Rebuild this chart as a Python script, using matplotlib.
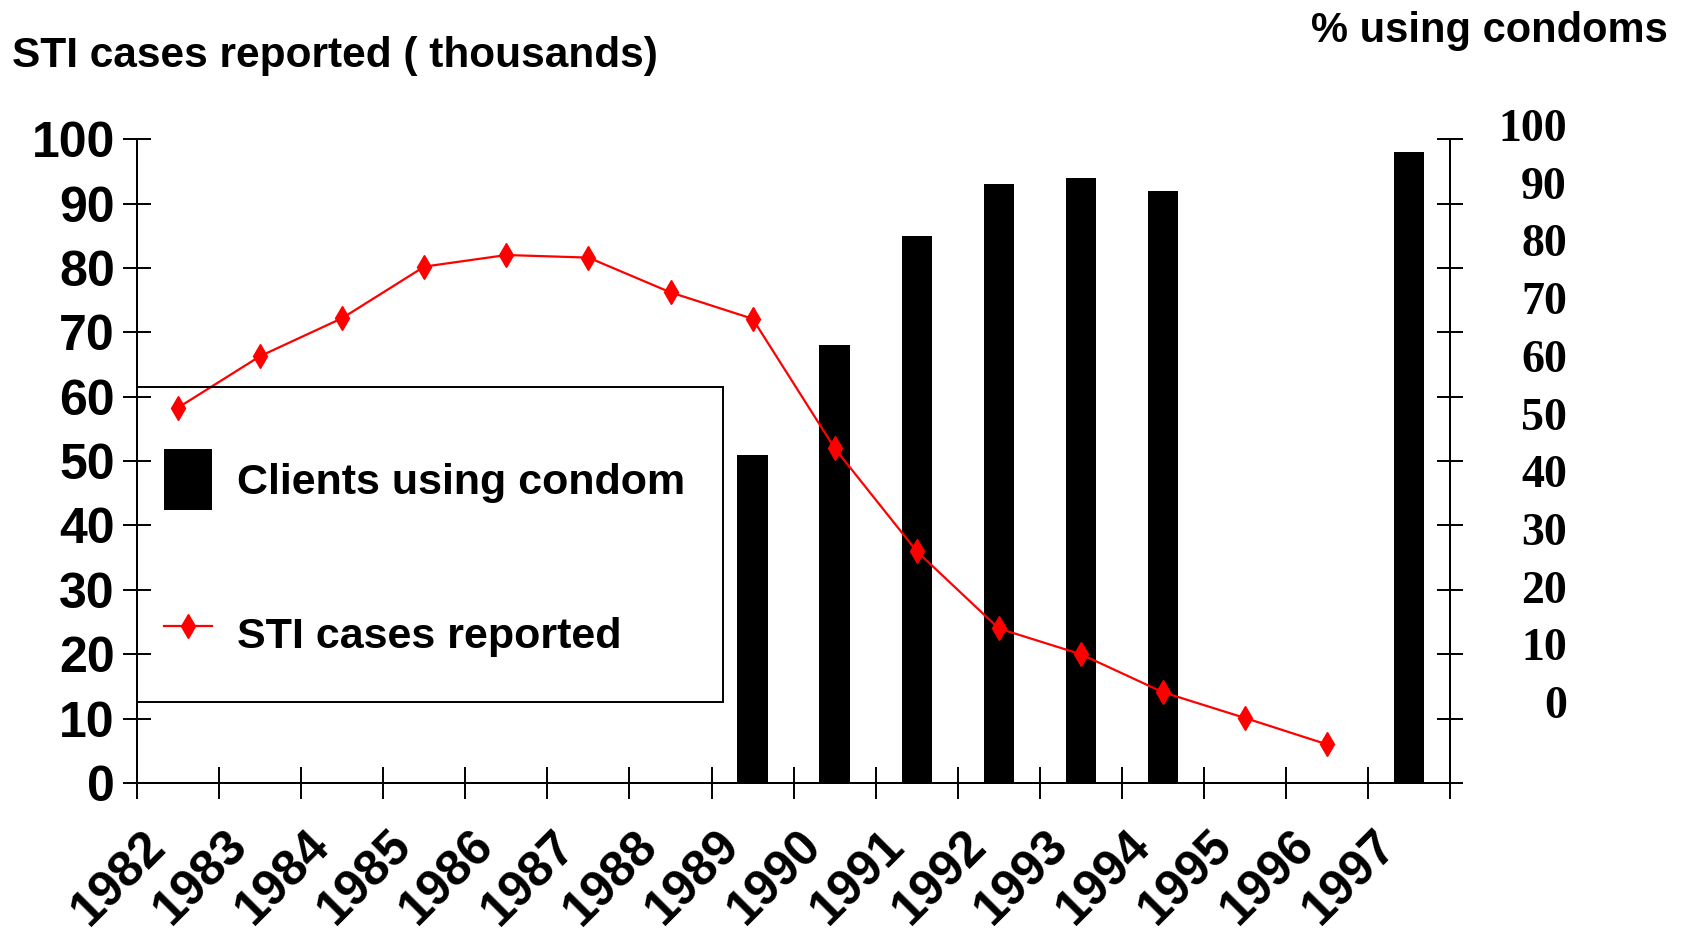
import matplotlib.pyplot as plt
from matplotlib.patches import Rectangle
from matplotlib.transforms import ScaledTranslation
import numpy as np

years = ["1982", "1983", "1984", "1985", "1986", "1987", "1988", "1989",
         "1990", "1991", "1992", "1993", "1994", "1995", "1996", "1997"]
sti_cases = [58.3, 66.3, 72.2, 80.2, 82.0, 81.6, 76.2, 72.1,
             52.0, 36.0, 24.0, 20.0, 14.1, 10.1, 6.0, np.nan]
condom_pct = [np.nan, np.nan, np.nan, np.nan, np.nan, np.nan, np.nan, 51,
              68, 85, 93, 94, 92, np.nan, np.nan, 98]
left_ticks = [0, 10, 20, 30, 40, 50, 60, 70, 80, 90, 100]
right_labels = ["0", "10", "20", "30", "40", "50", "60", "70", "80", "90", "100"]

SANS = "Liberation Sans"
SERIF = "Liberation Serif"

fig = plt.figure(figsize=(16.9, 9.4), dpi=100)
ax = fig.add_axes([0.0811, 0.167, 0.777, 0.685])
x = np.arange(len(years))

# bars belong to the right axis (% using condoms)
ax2 = ax.twinx()
ax2.bar(x, condom_pct, width=0.37, color="black", label="Clients using condom")
ax2.set_ylim(0, 100)
ax2.set_yticks(left_ticks)
ax2.set_yticklabels([])
ax2.tick_params(axis="y", direction="inout", length=19, width=1.4)

ax.set_zorder(ax2.get_zorder() + 1)
ax.patch.set_visible(False)
line, = ax.plot(x, sti_cases, color="red", lw=1.6, marker="d", ms=12,
                label="STI cases reported")
ax.set_xlim(-0.5, len(years) - 0.5)
ax.set_ylim(0, 100)
ax.set_yticks(left_ticks)
ax.set_yticklabels([str(v) for v in left_ticks], fontsize=36,
                   fontweight="bold", family=SANS)
ax.tick_params(axis="y", direction="inout", length=20, width=1.4, pad=6)

ax.set_xticks(x)
ax.set_xticklabels(years, rotation=45, ha="right", va="center",
                   rotation_mode="anchor", fontsize=36, fontweight="bold",
                   family=SANS)
ax.tick_params(axis="x", which="major", length=0, pad=40)
shift = ScaledTranslation(-0.2, 0, fig.dpi_scale_trans)
for lab in ax.get_xticklabels():
    lab.set_transform(lab.get_transform() + shift)
ax.set_xticks(np.arange(len(years) + 1) - 0.5, minor=True)
ax.tick_params(axis="x", which="minor", direction="inout", length=23, width=1.4)

for a in (ax, ax2):
    a.spines["top"].set_visible(False)
    for s in ("left", "bottom", "right"):
        a.spines[s].set_linewidth(1.4)

# labels of the right axis sit on their own scale
ax3 = fig.add_axes([0.0811, 0.2532, 0.777, 0.6138], frameon=False)
ax3.set_ylim(0, 100)
ax3.set_xticks([])
ax3.yaxis.tick_right()
ax3.set_yticks(left_ticks)
ax3.set_yticklabels(right_labels, fontsize=33, fontweight="bold",
                    family=SERIF, ha="right")
ax3.tick_params(axis="y", length=0, pad=84)

bars = ax2.containers[0]
leg = ax.legend([bars, line], ["Clients using condom", "STI cases reported"],
                loc="upper left", bbox_to_anchor=(0, 0.561), borderaxespad=0,
                prop={"family": SANS, "weight": "bold", "size": 31},
                frameon=False, handlelength=1.1, handleheight=1.82,
                handletextpad=0.6, labelspacing=2.16, borderpad=0.63)
# legend box of the original is taller than its content
ax.add_patch(Rectangle((0, 0.1256), 0.446, 0.489, transform=ax.transAxes,
                       fill=False, edgecolor="black", lw=1.4, zorder=5,
                       clip_on=False))

fig.text(0.007, 0.929, "STI cases reported ( thousands)", fontsize=30.5,
         fontweight="bold", family=SANS)
fig.text(0.987, 0.955, "% using condoms", fontsize=30, fontweight="bold",
         family=SANS, ha="right")

fig.savefig("out.png", dpi=100)
